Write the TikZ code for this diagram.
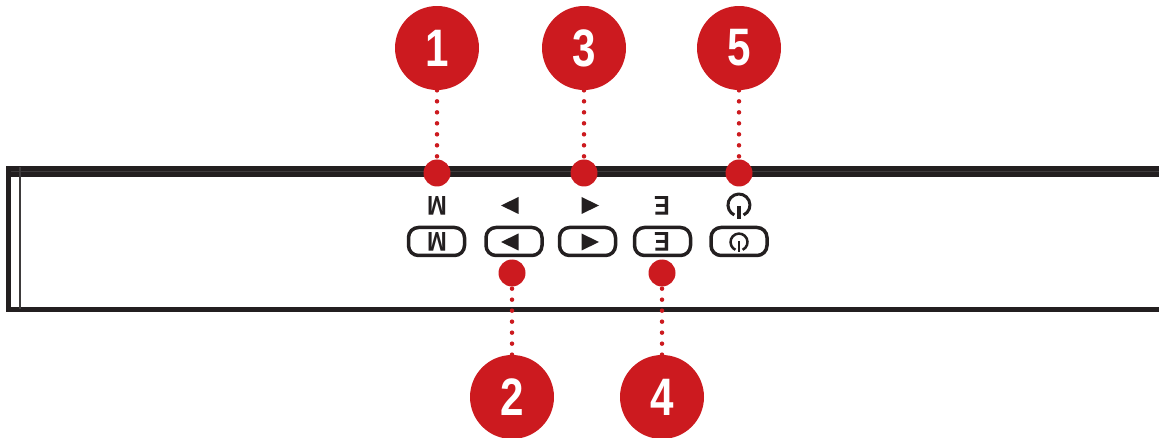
\documentclass[tikz,border=0pt]{standalone}
\usepackage{fontspec}
\setmainfont{Liberation Sans}
\newfontfamily\numfont[FakeStretch=0.8]{Liberation Sans}
\definecolor{rouge}{HTML}{CC1A1F}
\definecolor{noir}{HTML}{231F20}
\definecolor{gris}{HTML}{3E3B3C}
\newcommand{\tallsign}[1]{\scalebox{.9}[1.03]{#1}}
\tikzset{
    bigdot/.style={circle,fill=rouge,text=white,minimum size=1.68cm,inner sep=0pt,font=\numfont\bfseries\fontsize{30}{30}\selectfont},
    smalldot/.style={circle,fill=rouge,minimum size=0.54cm,inner sep=0pt},
    dotline/.style={rouge,line width=0.09cm,line cap=round,dash pattern=on 0pt off 0.22cm},
    button/.style={draw=noir,line width=0.07cm,rounded corners=0.2cm,minimum width=1.12cm,minimum height=0.56cm,inner sep=0pt},
    sign/.style={text=noir,inner sep=0pt,rotate=180,font=\bfseries\fontsize{15}{15}\selectfont},
}
\begin{document}
\begin{tikzpicture}[x=0.02cm,y=-0.02cm]
            \useasboundingbox (0,0) rectangle (1159,438);
            % frame
            \draw[noir,line width=0.21cm] (6,171.3) -- (1159,171.3);
            \draw[gris,line width=0.03cm] (6,171.3) -- (1159,171.3);
            \draw[noir,line width=0.09cm] (6,309.4) -- (1159,309.4);
            \draw[noir,line width=0.1cm] (8.5,167) -- (8.5,311.6);
            \draw[gris,line width=0.04cm] (20,167) -- (20,309);
            % buttons
            \foreach \nom/\x in {m/436.5,l/514,r/587.5,e/662.5,p/739} {
                \node[button] (b\nom) at (\x,241.5) {};
            }
            % signs above and in the buttons
            \node[sign] (sm) at (437,205.5) {\tallsign{M}};
            \node[sign] (tm) at (437,242) {\tallsign{M}};
            \node[sign] (se) at (662,205.5) {\tallsign{E}};
            \node[sign] (te) at (662,242) {\tallsign{E}};
            \foreach \y in {205.5,242} {
                \fill[noir] (501,\y) -- (518.5,\y-8.5) -- (518.5,\y+8.5) -- cycle;
                \fill[noir] (599,\y) -- (581.5,\y-8.5) -- (581.5,\y+8.5) -- cycle;
            }
            \draw[noir,line width=0.06cm] (743.6,215) arc (65:-245:11);
            \draw[noir,line width=0.07cm] (739,206) -- (739,219);
            \draw[noir,line width=0.05cm] (742.6,249.8) arc (65:-245:8.5);
            \draw[noir,line width=0.05cm] (739,241) -- (739,252);
            % numbers
            \foreach \nom/\x/\y/\dy in {1/437/48/173,3/584/48/173,5/739/48/173,2/512/397/273,4/662/397/273} {
                \node[bigdot] (n\nom) at (\x,\y) {\nom};
                \node[smalldot] (d\nom) at (\x,\dy) {};
                \draw[dotline] (n\nom) -- (d\nom);
            }
        \end{tikzpicture}
\end{document}
